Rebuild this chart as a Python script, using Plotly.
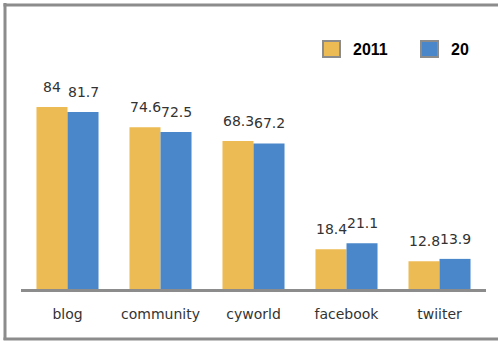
import plotly.graph_objects as go

categories = ["blog", "community", "cyworld", "facebook", "twiiter"]
series_names = ["2011", "20"]
values_2011 = [84, 74.6, 68.3, 18.4, 12.8]
values_20 = [81.7, 72.5, 67.2, 21.1, 13.9]
label_2011 = ["84", "74.6", "68.3", "18.4", "12.8"]
label_20 = ["81.7", "72.5", "67.2", "21.1", "13.9"]

colors = ["#EDBB53", "#4A87CA"]
gray = "#8C8C8C"

fig = go.Figure()
for name, vals, col in zip(series_names, [values_2011, values_20], colors):
    fig.add_trace(go.Bar(x=categories, y=vals, name=name, marker=dict(color=col, line=dict(width=0)),
                         showlegend=False))

annotations = []
for vals, labels, shift in [(values_2011, label_2011, -15.5), (values_20, label_20, 15.5)]:
    for c, v, t in zip(categories, vals, labels):
        annotations.append(dict(x=c, y=v, xref="x", yref="y", text=t, showarrow=False,
                                xshift=shift, yshift=20, yanchor="middle", xanchor="center",
                                font=dict(family="DejaVu Sans", size=14, color="#333333")))

# plot area: x 21..486 px, y 29..289 px
W, H = 465.0, 260.0
def px(x):
    return (x - 21) / W
def py(y):
    return (289 - y) / H

# legend via shapes + text
legend_x = [323, 421]
shapes = []
for i, (name, col) in enumerate(zip(series_names, colors)):
    x0 = legend_x[i]
    shapes.append(dict(type="rect", xref="paper", yref="paper", x0=px(x0), x1=px(x0 + 17),
                       y0=py(57), y1=py(41), fillcolor=col, line=dict(color=gray, width=2)))
    annotations.append(dict(x=px(x0 + 28), y=py(49.5), xref="paper", yref="paper", text="<b>%s</b>" % name,
                            showarrow=False, xanchor="left", yanchor="middle",
                            font=dict(family="Liberation Sans", size=16, color="#000000")))

# outer frame (left, top, bottom)
shapes.append(dict(type="line", xref="paper", yref="paper", x0=px(5), x1=px(5), y0=py(3), y1=py(340),
                   line=dict(color=gray, width=3)))
shapes.append(dict(type="line", xref="paper", yref="paper", x0=px(3.5), x1=px(498), y0=py(5), y1=py(5),
                   line=dict(color=gray, width=3)))
shapes.append(dict(type="line", xref="paper", yref="paper", x0=px(3.5), x1=px(498), y0=py(339), y1=py(339),
                   line=dict(color=gray, width=3)))

fig.update_layout(
    width=498, height=341,
    margin=dict(l=21, r=12, t=29, b=52),
    paper_bgcolor="white", plot_bgcolor="white",
    barmode="group", bargap=0.333, bargroupgap=0,
    annotations=annotations, shapes=shapes,
    xaxis=dict(showline=True, linecolor=gray, linewidth=2.5, showgrid=False, ticks="",
               tickfont=dict(family="DejaVu Sans", size=14, color="#333333"), ticklabelstandoff=10),
    yaxis=dict(range=[0, 120], visible=False, showgrid=False, zeroline=False),
)

fig.write_html("out.html")
